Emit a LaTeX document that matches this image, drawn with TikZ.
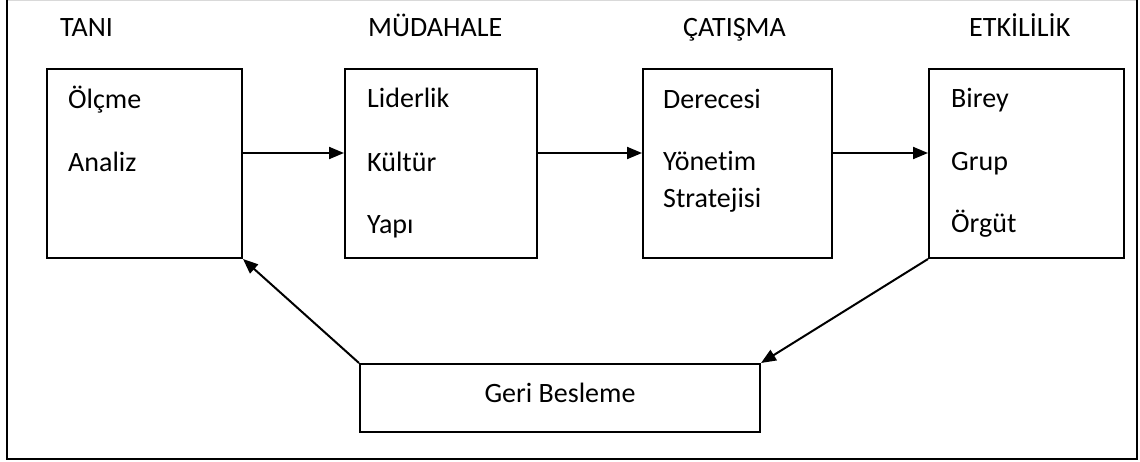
\documentclass[tikz,border=0pt]{standalone}
\usepackage{fontspec}
\setmainfont{Carlito}[Ligatures=NoCommon]
\usetikzlibrary{arrows.meta}
\tikzset{
  box/.style={draw, line width=2pt, minimum width=#1, anchor=north west, inner sep=0pt},
  stage/.style={anchor=base west, inner sep=0pt},
  item/.style={anchor=base west, inner sep=0pt},
  flow/.style={line width=2pt, -{Triangle[length=15pt,width=12pt]}},
  frame/.style={line width=2.2pt},
}
\begin{document}
\begin{tikzpicture}[x=1pt, y=-1pt, font=\fontsize{28}{34}\selectfont]
\useasboundingbox (0,0) rectangle (1140,461);
% outer frame
\draw[gray!30, line width=1pt] (7,0.5) -- (1137,0.5);
\draw[frame] (7,0) -- (7,459) -- (1137,459) -- (1137,0);

% stage titles
\node[stage] (tTani) at (60,36) {TANI};
\node[stage] (tMud) at (368,36) {MÜDAHALE};
\node[stage] (tCat) at (683,36) {ÇATIŞMA};
\node[stage] (tEtk) at (969,36) {ETKİLİLİK};

% stage boxes
\node[box=195pt, minimum height=189pt] (b1) at (46,68) {};
\node[box=192pt, minimum height=189pt] (b2) at (344,68) {};
\node[box=189pt, minimum height=189pt] (b3) at (642,68) {};
\node[box=195pt, minimum height=189pt] (b4) at (928,68) {};
\node[box=400pt, minimum height=68pt] (fb) at (359,363) {};

% box contents
\node[item] (i11) at (68,108) {Ölçme};
\node[item] (i12) at (68,171) {Analiz};
\node[item] (i21) at (367,107) {Liderlik};
\node[item] (i22) at (367,171) {Kültür};
\node[item] (i23) at (367,233) {Yapı};
\node[item] (i31) at (663,108) {Derecesi};
\node[item] (i32) at (663,170) {Yönetim};
\node[item] (i33) at (663,207) {Stratejisi};
\node[item] (i41) at (951,107) {Birey};
\node[item] (i42) at (951,170) {Grup};
\node[item] (i43) at (951,232) {Örgüt};
\node[anchor=base, inner sep=0pt] (fbt) at (560,402) {Geri Besleme};

% connectors
\coordinate (ya) at (0,153);
\draw[flow] (b1.east |- ya) -- (b2.west |- ya);
\draw[flow] (b2.east |- ya) -- (b3.west |- ya);
\draw[flow] (b3.east |- ya) -- (b4.west |- ya);
\draw[flow] (b4.south west) -- (fb.north east);
\draw[flow] (fb.north west) -- (b1.south east);
\end{tikzpicture}
\end{document}
